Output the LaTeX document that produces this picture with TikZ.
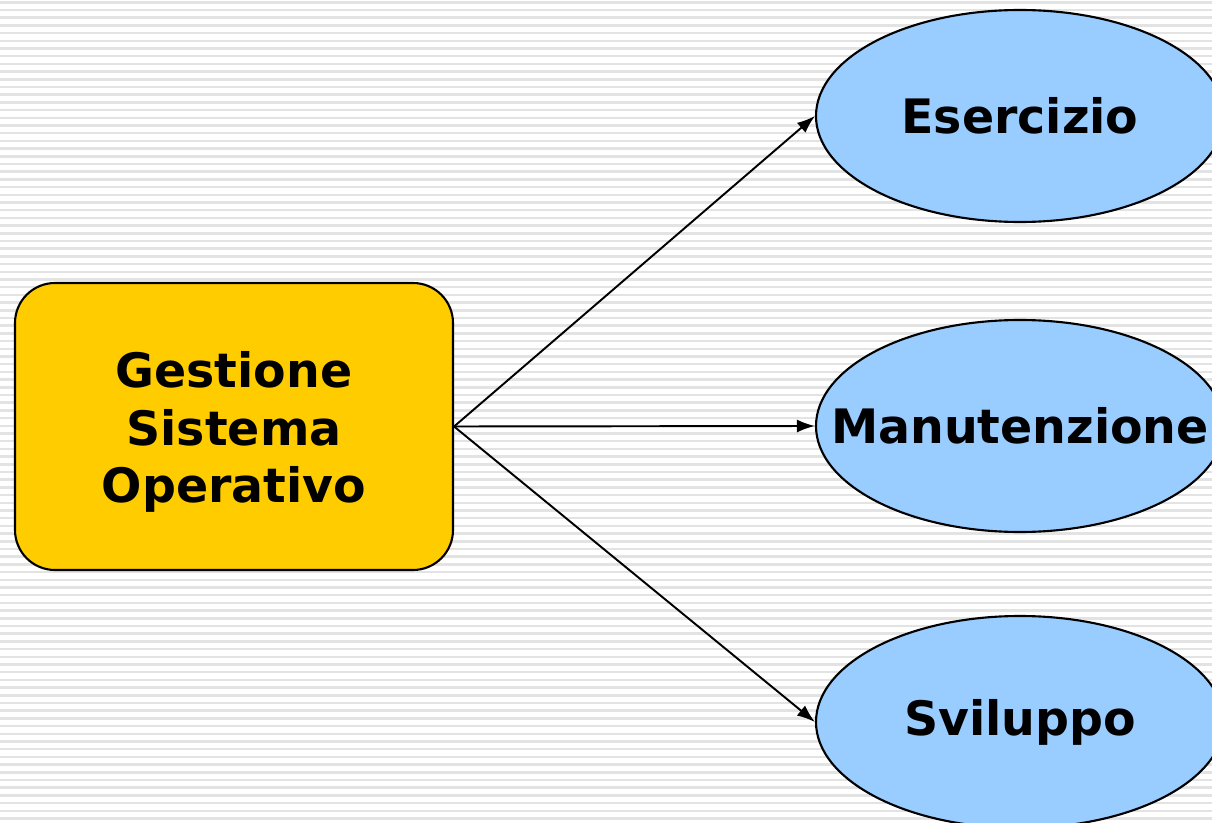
\documentclass[tikz,border=0pt]{standalone}
\usepackage{fontspec}
\setmainfont{DejaVu Sans}
\usetikzlibrary{shapes.geometric,arrows.meta}
\definecolor{boxyellow}{RGB}{255,204,0}
\definecolor{ovalblue}{RGB}{153,204,255}
\begin{document}
\begin{tikzpicture}
  [font=\bfseries\fontsize{27}{32.5}\selectfont,
   box/.style={draw,line width=1.2pt,rounded corners=0.8cm,fill=boxyellow,minimum width=8.76cm,minimum height=5.74cm},
   oval/.style={draw,line width=1.2pt,ellipse,fill=ovalblue,minimum width=8.16cm,minimum height=4.24cm,inner sep=0pt}]
  \useasboundingbox (0,0) rectangle (24.24,16.44);
  \foreach \y in {0.07,0.224,...,16.44}
    \draw[gray!22,line width=0.05cm] (0,\y) -- (24.24,\y);

  \node[box] (gso) at (4.68,7.91) {};
  \node[align=center] (gsotext) at ([yshift=-0.11cm]gso.center) {Gestione\\Sistema\\Operativo};
  \node[oval,label=center:Esercizio] (es) at (20.4,14.12) {};
  \node[oval,label=center:Manutenzione] (ma) at (20.4,7.92) {};
  \node[oval,label=center:Sviluppo] (sv) at (20.4,2.0) {};

  \foreach \to in {es,ma,sv}
    \draw[line width=1.1pt,-{Latex[length=0.36cm,width=0.26cm]}] (gso.east) -- (\to.west);

\end{tikzpicture}
\end{document}
